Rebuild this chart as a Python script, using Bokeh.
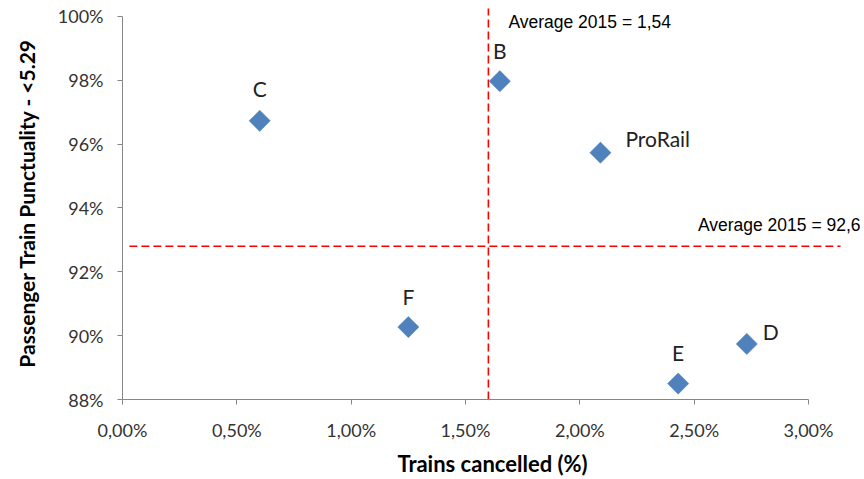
import numpy as np
from bokeh.plotting import figure
from bokeh.models import ColumnDataSource, Range1d, FixedTicker, CustomJSTickFormatter, Label
from bokeh.embed import file_html
from bokeh.resources import INLINE

# ---- data ----
names = ["C", "B", "ProRail", "F", "E", "D"]
cancelled = [0.60, 1.65, 2.09, 1.25, 2.43, 2.73]        # % trains cancelled
punctuality = [96.73, 97.97, 95.73, 90.27, 88.50, 89.74]  # % passenger punctuality
avg_x = 1.60
avg_y = 92.80
avg_x_text = "Average 2015 = 1,54"
avg_y_text = "Average 2015 = 92,6"
x_ticks = [0.0, 0.5, 1.0, 1.5, 2.0, 2.5, 3.0]
y_ticks = [88, 90, 92, 94, 96, 98, 100]

# ---- styles ----
# label offsets in screen pixels (dx, dy up), text alignment
label_style = {
    "C": (0, 32, "center"),
    "B": (0, 31, "center"),
    "ProRail": (25, 14, "left"),
    "F": (0, 31, "center"),
    "E": (0, 31, "center"),
    "D": (16, 12, "left"),
}
TICK_FONT = "Lato"
NOTE_FONT = "Liberation Sans"

p = figure(width=864, height=479,
           x_range=Range1d(0, 3.236), y_range=Range1d(88, 100.31),
           min_border_left=122, min_border_right=2, min_border_top=6, min_border_bottom=78,
           output_backend="svg", toolbar_location=None)
p.outline_line_color = None
p.grid.visible = False
p.background_fill_color = "white"
p.border_fill_color = "white"

for ax in (p.xaxis[0], p.yaxis[0]):
    ax.axis_line_color = "#868686"
    ax.major_tick_line_color = "#868686"
    ax.minor_tick_line_color = None
    ax.major_tick_in = 0
    ax.major_tick_out = 5
    ax.major_label_text_font = TICK_FONT
    ax.major_label_text_font_size = "18px"
    ax.major_label_text_color = "#333333"
    ax.axis_label_text_font = TICK_FONT
    ax.axis_label_text_font_style = "bold"
    ax.axis_label_text_color = "black"

p.xaxis[0].axis_label_text_font_size = "22px"
p.yaxis[0].axis_label_text_font_size = "21px"
p.xaxis[0].bounds = (x_ticks[0], x_ticks[-1])
p.yaxis[0].bounds = (y_ticks[0], y_ticks[-1])
p.xaxis[0].ticker = FixedTicker(ticks=x_ticks)
p.yaxis[0].ticker = FixedTicker(ticks=y_ticks)
p.xaxis[0].formatter = CustomJSTickFormatter(code="return tick.toFixed(2).replace('.', ',') + '%';")
p.yaxis[0].formatter = CustomJSTickFormatter(code="return tick.toFixed(0) + '%';")
p.xaxis[0].major_label_standoff = 14
p.yaxis[0].major_label_standoff = 14
p.xaxis[0].axis_label = "Trains cancelled (%)"
p.yaxis[0].axis_label = "Passenger Train Punctuality - <5.29"
p.xaxis[0].axis_label_standoff = 6
p.yaxis[0].axis_label_standoff = 16

# average lines
p.segment(x0=[avg_x], y0=[y_ticks[0]], x1=[avg_x], y1=[100.25],
          line_color="#FF0000", line_width=1.6, line_dash="8 4")
p.segment(x0=[0.03], y0=[avg_y], x1=[3.14], y1=[avg_y],
          line_color="#FF0000", line_width=1.6, line_dash="8 4")

src = ColumnDataSource(dict(x=cancelled, y=punctuality, name=names))
p.scatter("x", "y", source=src, marker="square", size=15, angle=np.pi / 4,
          fill_color="#4F81BD", line_color="#4F81BD", line_width=0.5)

for n, xv, yv in zip(names, cancelled, punctuality):
    dx, dy, al = label_style[n]
    p.add_layout(Label(x=xv, y=yv, x_offset=dx, y_offset=dy, text=n,
                       text_font=TICK_FONT, text_font_size="21px", text_color="#222222",
                       text_align=al, text_baseline="middle"))

p.add_layout(Label(x=avg_x, y=y_ticks[-1], x_offset=20, y_offset=-6, text=avg_x_text,
                   text_font=NOTE_FONT, text_font_size="17.5px", text_color="black",
                   text_align="left", text_baseline="middle"))
p.add_layout(Label(x=3.14, y=avg_y, x_offset=20, y_offset=21, text=avg_y_text,
                   text_font=NOTE_FONT, text_font_size="17.5px", text_color="black",
                   text_align="right", text_baseline="middle"))

open("out.html", "w").write(file_html(p, INLINE))
